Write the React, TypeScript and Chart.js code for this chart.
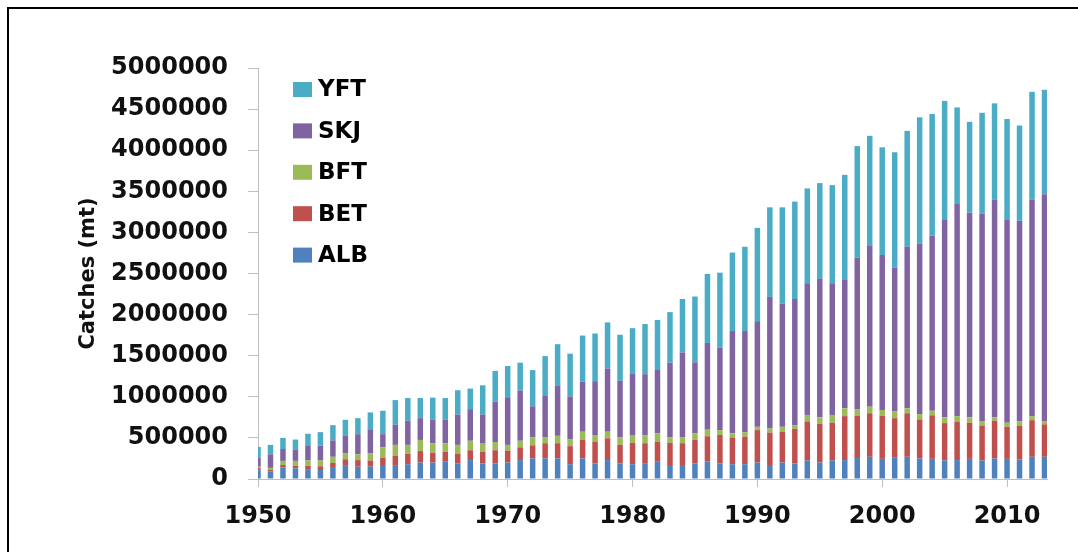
import React, { useEffect, useRef } from "react";
import { Chart, registerables } from "chart.js";

Chart.register(...registerables);

const years = [
  1950, 1951, 1952, 1953, 1954, 1955, 1956, 1957, 1958, 1959,
  1960, 1961, 1962, 1963, 1964, 1965, 1966, 1967, 1968, 1969,
  1970, 1971, 1972, 1973, 1974, 1975, 1976, 1977, 1978, 1979,
  1980, 1981, 1982, 1983, 1984, 1985, 1986, 1987, 1988, 1989,
  1990, 1991, 1992, 1993, 1994, 1995, 1996, 1997, 1998, 1999,
  2000, 2001, 2002, 2003, 2004, 2005, 2006, 2007, 2008, 2009,
  2010, 2011, 2012, 2013,
];

const ALB = [
  105000, 90000, 140000, 130000, 120000, 110000, 135000, 160000, 150000, 150000,
  170000, 160000, 180000, 200000, 200000, 210000, 190000, 230000, 190000, 190000,
  200000, 230000, 250000, 250000, 250000, 180000, 250000, 190000, 230000, 190000,
  180000, 185000, 210000, 170000, 170000, 190000, 210000, 190000, 180000, 180000,
  200000, 170000, 200000, 190000, 225000, 200000, 225000, 230000, 255000, 270000,
  245000, 265000, 270000, 250000, 245000, 225000, 230000, 245000, 225000, 250000,
  245000, 240000, 270000, 270000,
];

const BET = [
  25000, 20000, 30000, 30000, 40000, 45000, 60000, 80000, 80000, 75000,
  90000, 125000, 125000, 140000, 120000, 120000, 120000, 120000, 140000, 160000,
  145000, 155000, 160000, 185000, 185000, 220000, 230000, 265000, 265000, 225000,
  260000, 250000, 245000, 270000, 265000, 285000, 310000, 345000, 325000, 335000,
  395000, 395000, 375000, 420000, 475000, 470000, 460000, 535000, 515000, 530000,
  525000, 475000, 530000, 475000, 530000, 455000, 465000, 440000, 425000, 460000,
  390000, 410000, 445000, 395000,
];

const BFT = [
  20000, 25000, 50000, 60000, 65000, 70000, 75000, 75000, 70000, 90000,
  125000, 130000, 110000, 135000, 115000, 105000, 105000, 115000, 100000, 100000,
  70000, 80000, 95000, 75000, 90000, 80000, 95000, 80000, 80000, 95000,
  95000, 95000, 100000, 65000, 75000, 80000, 80000, 60000, 50000, 55000,
  40000, 50000, 60000, 45000, 80000, 80000, 95000, 95000, 75000, 80000,
  70000, 80000, 60000, 65000, 55000, 70000, 70000, 65000, 55000, 40000,
  50000, 50000, 50000, 35000,
];

const SKJ = [
  110000, 165000, 145000, 140000, 185000, 180000, 200000, 210000, 245000, 290000,
  160000, 245000, 295000, 265000, 285000, 285000, 370000, 385000, 355000, 490000,
  580000, 610000, 380000, 500000, 615000, 525000, 610000, 655000, 770000, 685000,
  750000, 745000, 780000, 910000, 1030000, 865000, 1055000, 1005000, 1245000, 1230000,
  1285000, 1600000, 1500000, 1535000, 1600000, 1685000, 1600000, 1560000, 1845000, 1965000,
  1885000, 1750000, 1965000, 2075000, 2130000, 2410000, 2580000, 2490000, 2525000, 2645000,
  2465000, 2440000, 2635000, 2765000,
];

const YFT = [
  130000, 115000, 135000, 120000, 140000, 165000, 185000, 195000, 195000, 205000,
  285000, 300000, 275000, 245000, 270000, 265000, 295000, 250000, 355000, 375000,
  380000, 340000, 440000, 485000, 500000, 520000, 560000, 580000, 560000, 560000,
  550000, 610000, 600000, 615000, 650000, 800000, 840000, 910000, 955000, 1025000,
  1135000, 1090000, 1170000, 1185000, 1155000, 1165000, 1195000, 1280000, 1360000, 1330000,
  1310000, 1405000, 1410000, 1535000, 1480000, 1440000, 1175000, 1105000, 1225000, 1175000,
  1230000, 1160000, 1310000, 1270000,
];

const seriesNames = ["ALB", "BET", "BFT", "SKJ", "YFT"];
const seriesValues = [ALB, BET, BFT, SKJ, YFT];
const seriesColors = ["#4F81BD", "#C0504D", "#9BBB59", "#8064A2", "#4BACC6"];

const xTickYears = [1950, 1960, 1970, 1980, 1990, 2000, 2010];
const yTickValues = [
  0, 500000, 1000000, 1500000, 2000000, 2500000,
  3000000, 3500000, 4000000, 4500000, 5000000,
];
const yTitle = "Catches (mt)";

const FONT = "'DejaVu Sans', 'Open Sans', sans-serif";

const insideLegend = {
  id: "insideLegend",
  afterDatasetsDraw(chart: any) {
    const ctx = chart.ctx;
    const ds = chart.data.datasets.slice().reverse();
    ctx.save();
    ctx.font = `bold 23px ${FONT}`;
    ctx.textBaseline = "middle";
    ctx.textAlign = "left";
    ds.forEach((d: any, i: number) => {
      const cy = 89.5 + i * 41.4;
      ctx.fillStyle = d.backgroundColor;
      ctx.fillRect(293, cy - 7.5, 19, 15);
      ctx.fillStyle = "#000";
      ctx.fillText(d.label, 318, cy + 1);
    });
    ctx.restore();
  },
};

export default function App() {
  const canvasRef = useRef<HTMLCanvasElement | null>(null);

  useEffect(() => {
    const canvas = canvasRef.current;
    if (!canvas) return;
    const chart = new Chart(canvas, {
      type: "bar",
      data: {
        labels: years,
        datasets: seriesNames.map((name, i) => ({
          label: name,
          data: seriesValues[i],
          backgroundColor: seriesColors[i],
          borderWidth: 0,
          categoryPercentage: 1,
          barPercentage: 0.44,
          clip: 0,
        })),
      },
      plugins: [insideLegend],
      options: {
        responsive: false,
        devicePixelRatio: 1,
        animation: false,
        events: [],
        layout: { padding: { left: 0, right: 31, top: 68, bottom: 0 } },
        plugins: {
          legend: { display: false },
          tooltip: { enabled: false },
          title: { display: false },
        },
        scales: {
          x: {
            type: "linear",
            stacked: true,
            min: 1950,
            max: 2013.2,
            offset: false,
            afterBuildTicks: (scale: any) => {
              scale.ticks = xTickYears.map((v) => ({ value: v }));
            },
            afterFit: (scale: any) => {
              scale.height = 73;
            },
            ticks: {
              autoSkip: false,
              maxRotation: 0,
              padding: 15,
              color: "#111",
              font: { family: FONT, size: 24, weight: "bold" },
              callback: (v: any) => String(v),
            },
            grid: {
              offset: false,
              drawOnChartArea: false,
              drawTicks: true,
              tickLength: 8,
              tickColor: "#BFBFBF",
              color: "#BFBFBF",
            },
            border: { display: true, color: "#BFBFBF", width: 1 },
          },
          y: {
            stacked: true,
            min: 0,
            max: 5000000,
            afterBuildTicks: (scale: any) => {
              scale.ticks = yTickValues.map((v) => ({ value: v }));
            },
            afterFit: (scale: any) => {
              scale.width = 258;
            },
            ticks: {
              padding: 20,
              color: "#111",
              font: { family: FONT, size: 24, weight: "bold" },
              callback: (v: any) => String(v),
            },
            grid: {
              drawOnChartArea: false,
              drawTicks: true,
              tickLength: 10,
              tickColor: "#BFBFBF",
              color: "#BFBFBF",
            },
            border: { display: true, color: "#BFBFBF", width: 1 },
            title: {
              display: true,
              text: yTitle,
              color: "#111",
              font: { family: FONT, size: 21, weight: "bold" },
              padding: { top: 76, bottom: 0 },
            },
          },
        },
      } as any,
    });
    return () => chart.destroy();
  }, []);

  return (
    <div
      style={{
        position: "fixed",
        left: 0,
        top: 0,
        width: 1078,
        height: 552,
        background: "#fff",
        overflow: "hidden",
      }}
    >
      <div
        style={{
          position: "absolute",
          left: 7,
          top: 7,
          right: -10,
          bottom: -10,
          borderTop: "2px solid #000",
          borderLeft: "2px solid #000",
        }}
      />
      <canvas
        ref={canvasRef}
        width={1078}
        height={552}
        style={{ position: "absolute", left: 0, top: 0, width: 1078, height: 552, display: "block" }}
      />
    </div>
  );
}
